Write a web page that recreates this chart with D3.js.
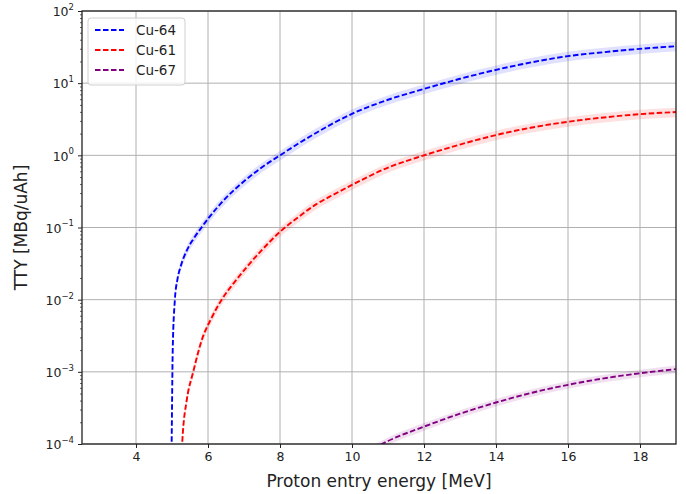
<!DOCTYPE html>
<html lang="en">
<head>
  <meta charset="UTF-8">
  <title>TTY</title>
  <style>
    body { margin: 0; background: #fff; }
    svg text { font-family: "DejaVu Sans", sans-serif; fill: #222; }
  </style>
</head>
<body>
  <svg id="chart"></svg>
  <script src="https://d3js.org/d3.v7.min.js"></script>
  <script>
  // data
  const xTicks = [4, 6, 8, 10, 12, 14, 16, 18];
  const yTicks = [1e-4, 1e-3, 1e-2, 1e-1, 1e0, 1e1, 1e2];
  const yExponents = ["\u22124", "\u22123", "\u22122", "\u22121", "0", "1", "2"];
  const seriesNames = ["Cu-64", "Cu-61", "Cu-67"];
  const seriesColors = ["#0000ff", "#ff0000", "#800080"];
  const relErr = [0.15, 0.15, 0.12];

  const cu64Energy = [4.985, 5.0, 5.02, 5.08, 5.15, 5.24, 5.4, 5.6, 5.82, 6.0, 6.5, 7.0, 7.5, 8.0, 8.5, 9.0, 9.5, 10, 11, 12, 13, 14, 15, 16, 17, 18, 19];
  const cu64Tty = [5e-5, 3.0e-4, 2.0e-3, 1.0e-2, 1.9e-2, 2.88e-2, 4.68e-2, 7.0e-2, 0.100, 0.132, 0.257, 0.437, 0.684, 1.0, 1.445, 2.04, 2.82, 3.76, 5.89, 8.32, 11.5, 15.3, 19.5, 23.7, 26.9, 29.9, 32.5];

  const cu61Energy = [5.25, 5.3, 5.41, 5.59, 5.82, 6.1, 6.38, 6.7, 7.09, 7.5, 8.0, 8.5, 9.0, 9.5, 10, 11, 12, 13, 14, 15, 16, 17, 18, 19];
  const cu61Tty = [5.0e-5, 1.4e-4, 4.07e-4, 1.0e-3, 2.69e-3, 5.6e-3, 1.0e-2, 1.66e-2, 2.88e-2, 4.9e-2, 8.7e-2, 0.138, 0.209, 0.288, 0.389, 0.676, 1.0, 1.41, 1.91, 2.43, 2.92, 3.35, 3.72, 3.98];

  const cu67Energy = [10.6, 11, 12, 13, 14, 15, 16, 17, 18, 19];
  const cu67Tty = [8.7e-5, 1.10e-4, 1.74e-4, 2.63e-4, 3.76e-4, 5.13e-4, 6.61e-4, 8.13e-4, 9.55e-4, 1.09e-3];

  const series = [
    d3.zip(cu64Energy, cu64Tty),
    d3.zip(cu61Energy, cu61Tty),
    d3.zip(cu67Energy, cu67Tty)
  ];

  const width = 686, height = 494;
  const margin = {top: 11, right: 10, bottom: 50, left: 82};
  const w = width - margin.left - margin.right;
  const h = height - margin.top - margin.bottom;

  const svg = d3.select("#chart").attr("width", width).attr("height", height);
  const g = svg.append("g").attr("transform", `translate(${margin.left},${margin.top})`);

  const x = d3.scaleLinear().domain([2.5, 19]).range([0, w]);
  const y = d3.scaleLog().domain([1e-4, 1e2]).range([h, 0]);

  svg.append("defs").append("clipPath").attr("id", "clip")
    .append("rect").attr("width", w).attr("height", h);

  // grid
  g.append("g").selectAll("line").data(xTicks).join("line")
    .attr("x1", d => x(d)).attr("x2", d => x(d))
    .attr("y1", 0).attr("y2", h)
    .attr("stroke", "#b0b0b0").attr("stroke-width", 1);
  g.append("g").selectAll("line").data(yTicks).join("line")
    .attr("x1", 0).attr("x2", w)
    .attr("y1", d => y(d)).attr("y2", d => y(d))
    .attr("stroke", "#b0b0b0").attr("stroke-width", 1);

  // bands + lines
  const plot = g.append("g").attr("clip-path", "url(#clip)");
  series.forEach((s, i) => {
    const band = d3.area()
      .x(d => x(d[0]))
      .y0(d => y(d[1] * (1 - relErr[i])))
      .y1(d => y(d[1] * (1 + relErr[i])))
      .curve(d3.curveMonotoneX);
    plot.append("path").datum(s)
      .attr("d", band)
      .attr("fill", seriesColors[i])
      .attr("fill-opacity", 0.12);
  });
  series.forEach((s, i) => {
    const line = d3.line()
      .x(d => x(d[0]))
      .y(d => y(d[1]))
      .curve(d3.curveMonotoneX);
    plot.append("path").datum(s)
      .attr("d", line)
      .attr("fill", "none")
      .attr("stroke", seriesColors[i])
      .attr("stroke-width", 1.9)
      .attr("stroke-dasharray", "5.5,2.5");
  });

  // axes
  const xAxis = g.append("g").attr("transform", `translate(0,${h})`)
    .call(d3.axisBottom(x).tickValues(xTicks).tickSize(4).tickPadding(4).tickFormat(d3.format("d")));
  xAxis.select(".domain").remove();
  xAxis.selectAll("text").attr("font-size", 12.5).style("font-family", "DejaVu Sans");

  const minor = [];
  for (let e = -4; e < 2; e++) for (let m = 2; m < 10; m++) minor.push(m * Math.pow(10, e));
  const yMinor = g.append("g").call(d3.axisLeft(y).tickValues(minor).tickSize(2).tickFormat(""));
  yMinor.select(".domain").remove();
  yMinor.selectAll("line").attr("stroke-width", 0.7);

  const yAxis = g.append("g")
    .call(d3.axisLeft(y).tickValues(yTicks).tickSize(4).tickPadding(4).tickFormat(""));
  yAxis.select(".domain").remove();
  yAxis.selectAll(".tick text").each(function(d, i) {
    const t = d3.select(this).attr("font-size", 12.5).attr("dy", "0.38em");
    t.append("tspan").text("10");
    t.append("tspan").attr("font-size", 8.5).attr("dy", "-0.75em").text(yExponents[i]);
  });
  g.selectAll(".tick line").attr("stroke", "#222");

  // frame
  g.append("rect").attr("width", w).attr("height", h)
    .attr("fill", "none").attr("stroke", "#222").attr("stroke-width", 1.3);

  // labels
  svg.append("text")
    .attr("x", margin.left + w / 2).attr("y", 487)
    .attr("text-anchor", "middle").attr("font-size", 17)
    .text("Proton entry energy [MeV]");
  svg.append("text")
    .attr("transform", `translate(27,${margin.top + h / 2}) rotate(-90)`)
    .attr("text-anchor", "middle").attr("font-size", 17)
    .text("TTY [MBq/uAh]");

  // legend
  const legend = g.append("g").attr("transform", "translate(6,7)");
  legend.append("rect")
    .attr("width", 97).attr("height", 67).attr("rx", 3)
    .attr("fill", "#fff").attr("fill-opacity", 0.8)
    .attr("stroke", "#d0d0d0");
  seriesNames.forEach((name, i) => {
    const row = legend.append("g").attr("transform", `translate(0,${12 + i * 20})`);
    row.append("line").attr("x1", 7).attr("x2", 36)
      .attr("stroke", seriesColors[i]).attr("stroke-width", 1.9)
      .attr("stroke-dasharray", "5.5,2.5");
    row.append("text").attr("x", 48).attr("dy", "0.35em")
      .attr("font-size", 13.5).text(name);
  });
  </script>
</body>
</html>
